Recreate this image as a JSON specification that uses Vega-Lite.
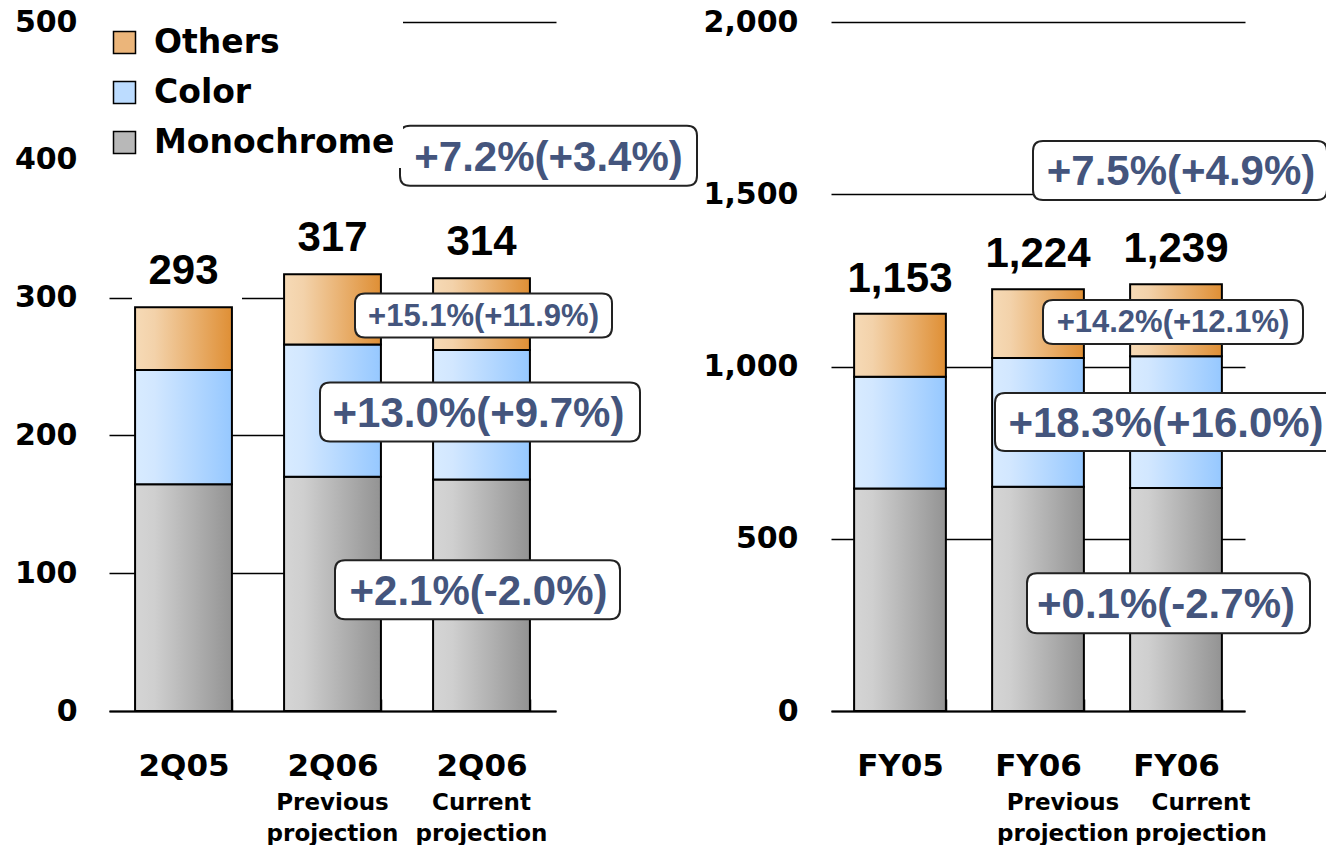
{
  "$schema": "https://vega.github.io/schema/vega-lite/v6.json",
  "background": "white",
  "padding": {"left": 14, "top": 7, "right": 0, "bottom": 0},
  "bounds": "flush",
  "spacing": 275,
  "datasets": {
    "left": [
      {"period": "2Q05", "segment": "Monochrome", "value": 164.5},
      {"period": "2Q05", "segment": "Color", "value": 83},
      {"period": "2Q05", "segment": "Others", "value": 45.5},
      {"period": "2Q06 Previous projection", "segment": "Monochrome", "value": 170},
      {"period": "2Q06 Previous projection", "segment": "Color", "value": 96},
      {"period": "2Q06 Previous projection", "segment": "Others", "value": 51},
      {"period": "2Q06 Current projection", "segment": "Monochrome", "value": 168},
      {"period": "2Q06 Current projection", "segment": "Color", "value": 94},
      {"period": "2Q06 Current projection", "segment": "Others", "value": 52}
    ],
    "leftNotes": [
      {"period": "2Q06 Current projection", "segment": "Total", "label": "+7.2%(+3.4%)", "value": 403},
      {"period": "2Q06 Current projection", "segment": "Others", "label": "+15.1%(+11.9%)", "value": 287},
      {"period": "2Q06 Current projection", "segment": "Color", "label": "+13.0%(+9.7%)", "value": 217},
      {"period": "2Q06 Current projection", "segment": "Monochrome", "label": "+2.1%(-2.0%)", "value": 88}
    ],
    "right": [
      {"period": "FY05", "segment": "Monochrome", "value": 646},
      {"period": "FY05", "segment": "Color", "value": 324},
      {"period": "FY05", "segment": "Others", "value": 183},
      {"period": "FY06 Previous projection", "segment": "Monochrome", "value": 651},
      {"period": "FY06 Previous projection", "segment": "Color", "value": 374},
      {"period": "FY06 Previous projection", "segment": "Others", "value": 199},
      {"period": "FY06 Current projection", "segment": "Monochrome", "value": 647},
      {"period": "FY06 Current projection", "segment": "Color", "value": 383},
      {"period": "FY06 Current projection", "segment": "Others", "value": 209}
    ],
    "rightNotes": [
      {"period": "FY06 Current projection", "segment": "Total", "label": "+7.5%(+4.9%)", "value": 1569},
      {"period": "FY06 Current projection", "segment": "Others", "label": "+14.2%(+12.1%)", "value": 1129},
      {"period": "FY06 Current projection", "segment": "Color", "label": "+18.3%(+16.0%)", "value": 839},
      {"period": "FY06 Current projection", "segment": "Monochrome", "label": "+0.1%(-2.7%)", "value": 313}
    ]
  },
  "hconcat": [
    {
      "width": 447,
      "height": 689,
      "resolve": {"axis": {"x": "independent"}},
      "layer": [
        {
          "data": {"name": "left"},
          "transform": [
            {"calculate": "indexof(['Monochrome','Color','Others'], datum.segment)", "as": "stackIdx"},
            {"stack": "value", "groupby": ["period"], "sort": [{"field": "stackIdx", "order": "ascending"}], "as": ["v0", "v1"]}
          ],
          "mark": {"type": "bar"},
          "encoding": {
            "x": {"field": "period", "type": "nominal", "sort": ["2Q05", "2Q06 Previous projection", "2Q06 Current projection"], "title": null,
              "scale": {"paddingInner": 0.35, "paddingOuter": 0.175},
              "axis": {"orient": "bottom", "labelExpr": "split(datum.label, ' ')[0]", "labelFont": "DejaVu Sans", "labelFontWeight": "bold", "labelFontSize": 31, "labelColor": "black", "labelPadding": 52, "labelAngle": 0,
                "domainColor": "black", "domainWidth": 2, "ticks": true, "tickBand": "extent", "tickSize": -12, "tickColor": "black", "tickWidth": 1.5, "grid": false}},
            "y": {"field": "v1", "type": "quantitative", "title": null,
              "scale": {"domain": [0, 500], "nice": false},
              "axis": {"values": [0, 100, 200, 300, 400, 500], "labelPadding": 32, "labelFont": "DejaVu Sans", "labelFontWeight": "bold", "labelFontSize": 30, "labelColor": "black",
                "domain": false, "ticks": false, "grid": true, "gridColor": "black", "gridWidth": 1.5, "gridOpacity": 1}},
            "y2": {"field": "v0"},
            "color": {"field": "segment", "type": "nominal",
              "scale": {"domain": ["Others", "Color", "Monochrome"], "range": ["#EBB57A", "#BCDCFF", "#B8B8B8"]},
              "legend": {"orient": "none", "legendX": -9, "legendY": -4, "title": null, "symbolType": "square", "symbolSize": 484, "symbolStrokeColor": "black", "symbolStrokeWidth": 1.5,
                "labelFont": "DejaVu Sans", "labelFontWeight": "bold", "labelFontSize": 33, "labelColor": "black", "labelOffset": 13, "rowPadding": 16, "fillColor": "white", "padding": 8, "labelLimit": 400}}
          }
        },
        {
          "data": {"name": "left"},
          "transform": [
            {"calculate": "indexof(['Monochrome','Color','Others'], datum.segment)", "as": "stackIdx"},
            {"stack": "value", "groupby": ["period"], "sort": [{"field": "stackIdx", "order": "ascending"}], "as": ["v0", "v1"]},
            {"filter": "datum.segment === 'Monochrome'"}
          ],
          "mark": {"type": "bar", "stroke": "black", "strokeWidth": 2,
            "fill": {"gradient": "linear", "x1": 0, "y1": 0, "x2": 1, "y2": 0, "stops": [{"offset": 0, "color": "#D5D5D5"}, {"offset": 0.2, "color": "#CFCFCF"}, {"offset": 1, "color": "#939393"}]}},
          "encoding": {
            "x": {"field": "period", "type": "nominal", "sort": ["2Q05", "2Q06 Previous projection", "2Q06 Current projection"], "title": null, "axis": null},
            "y": {"field": "v1", "type": "quantitative", "title": null},
            "y2": {"field": "v0"}
          }
        },
        {
          "data": {"name": "left"},
          "transform": [
            {"calculate": "indexof(['Monochrome','Color','Others'], datum.segment)", "as": "stackIdx"},
            {"stack": "value", "groupby": ["period"], "sort": [{"field": "stackIdx", "order": "ascending"}], "as": ["v0", "v1"]},
            {"filter": "datum.segment === 'Color'"}
          ],
          "mark": {"type": "bar", "stroke": "black", "strokeWidth": 2,
            "fill": {"gradient": "linear", "x1": 0, "y1": 0, "x2": 1, "y2": 0, "stops": [{"offset": 0, "color": "#D8EBFF"}, {"offset": 0.2, "color": "#D2E7FF"}, {"offset": 1, "color": "#96C8FF"}]}},
          "encoding": {
            "x": {"field": "period", "type": "nominal", "sort": ["2Q05", "2Q06 Previous projection", "2Q06 Current projection"], "title": null, "axis": null},
            "y": {"field": "v1", "type": "quantitative", "title": null},
            "y2": {"field": "v0"}
          }
        },
        {
          "data": {"name": "left"},
          "transform": [
            {"calculate": "indexof(['Monochrome','Color','Others'], datum.segment)", "as": "stackIdx"},
            {"stack": "value", "groupby": ["period"], "sort": [{"field": "stackIdx", "order": "ascending"}], "as": ["v0", "v1"]},
            {"filter": "datum.segment === 'Others'"}
          ],
          "mark": {"type": "bar", "stroke": "black", "strokeWidth": 2,
            "fill": {"gradient": "linear", "x1": 0, "y1": 0, "x2": 1, "y2": 0, "stops": [{"offset": 0, "color": "#F6DAB6"}, {"offset": 0.2, "color": "#F3D2AA"}, {"offset": 1, "color": "#DF8F35"}]}},
          "encoding": {
            "x": {"field": "period", "type": "nominal", "sort": ["2Q05", "2Q06 Previous projection", "2Q06 Current projection"], "title": null, "axis": null},
            "y": {"field": "v1", "type": "quantitative", "title": null},
            "y2": {"field": "v0"}
          }
        },
        {
          "data": {"name": "left"},
          "mark": {"type": "point", "filled": true, "fill": "white", "strokeWidth": 0, "opacity": 1, "size": 160000,
            "shape": "M-0.2575,-0.3 L0.2925,-0.3 L0.2925,-0.035 L-0.2575,-0.035 Z"},
          "encoding": {
            "x": {"field": "period", "type": "nominal", "sort": ["2Q05", "2Q06 Previous projection", "2Q06 Current projection"], "title": null, "axis": null},
            "y": {"aggregate": "sum", "field": "value", "type": "quantitative", "title": null}
          }
        },
        {
          "data": {"name": "left"},
          "mark": {"type": "text", "font": "Liberation Sans", "fontWeight": "bold", "fontSize": 42, "color": "black", "baseline": "alphabetic", "dy": -23},
          "encoding": {
            "x": {"field": "period", "type": "nominal", "sort": ["2Q05", "2Q06 Previous projection", "2Q06 Current projection"], "title": null,
              "axis": {"orient": "bottom", "labelExpr": "length(split(datum.label, ' ')) > 1 ? slice(split(datum.label, ' '), 1) : ''", "labelFont": "DejaVu Sans", "labelFontWeight": "bold", "labelFontSize": 23, "labelLineHeight": 31, "labelColor": "black", "labelPadding": 80, "labelAngle": 0,
                "domain": false, "ticks": false, "grid": false}},
            "y": {"aggregate": "sum", "field": "value", "type": "quantitative", "title": null},
            "text": {"aggregate": "sum", "field": "value", "type": "quantitative", "format": ",.0f"}
          }
        },
        {
          "data": {"name": "leftNotes"},
          "mark": {"type": "point", "filled": true, "fill": "white", "stroke": "#222222", "strokeWidth": 2, "opacity": 1, "size": 160000},
          "encoding": {
            "x": {"field": "period", "type": "nominal", "sort": ["2Q05", "2Q06 Previous projection", "2Q06 Current projection"], "title": null, "axis": null},
            "y": {"field": "value", "type": "quantitative", "title": null},
            "shape": {"field": "label", "type": "nominal", "legend": null, "scale": {
              "domain": ["+7.2%(+3.4%)", "+15.1%(+11.9%)", "+13.0%(+9.7%)", "+2.1%(-2.0%)"],
              "range": [
                "M-0.3575,-0.15 L1.0275,-0.15 Q1.0775,-0.15 1.0775,-0.1 L1.0775,0.1 Q1.0775,0.15 1.0275,0.15 L-0.3575,0.15 Q-0.4075,0.15 -0.4075,0.1 L-0.4075,-0.1 Q-0.4075,-0.15 -0.3575,-0.15 Z",
                "M-0.5825,-0.11 L0.6025,-0.11 Q0.6525,-0.11 0.6525,-0.06 L0.6525,0.06 Q0.6525,0.11 0.6025,0.11 L-0.5825,0.11 Q-0.6325,0.11 -0.6325,0.06 L-0.6325,-0.06 Q-0.6325,-0.11 -0.5825,-0.11 Z",
                "M-0.7575,-0.1475 L0.7425,-0.1475 Q0.7925,-0.1475 0.7925,-0.0975 L0.7925,0.0975 Q0.7925,0.1475 0.7425,0.1475 L-0.7575,0.1475 Q-0.8075,0.1475 -0.8075,0.0975 L-0.8075,-0.0975 Q-0.8075,-0.1475 -0.7575,-0.1475 Z",
                "M-0.6825,-0.1475 L0.6425,-0.1475 Q0.6925,-0.1475 0.6925,-0.0975 L0.6925,0.0975 Q0.6925,0.1475 0.6425,0.1475 L-0.6825,0.1475 Q-0.7325,0.1475 -0.7325,0.0975 L-0.7325,-0.0975 Q-0.7325,-0.1475 -0.6825,-0.1475 Z"
              ]}}
          }
        },
        {
          "data": {"name": "leftNotes"},
          "transform": [{"filter": "datum.segment === 'Total'"}],
          "mark": {"type": "text", "font": "Liberation Sans", "fontWeight": "bold", "fontSize": 42, "color": "#44557D", "baseline": "middle", "dx": 67, "dy": 2},
          "encoding": {
            "x": {"field": "period", "type": "nominal", "sort": ["2Q05", "2Q06 Previous projection", "2Q06 Current projection"], "title": null, "axis": null},
            "y": {"field": "value", "type": "quantitative", "title": null},
            "text": {"field": "label", "type": "nominal"}
          }
        },
        {
          "data": {"name": "leftNotes"},
          "transform": [{"filter": "datum.segment === 'Color' || datum.segment === 'Monochrome'"}],
          "mark": {"type": "text", "font": "Liberation Sans", "fontWeight": "bold", "fontSize": 42, "color": "#44557D", "baseline": "middle", "dx": -3, "dy": 2},
          "encoding": {
            "x": {"field": "period", "type": "nominal", "sort": ["2Q05", "2Q06 Previous projection", "2Q06 Current projection"], "title": null, "axis": null},
            "y": {"field": "value", "type": "quantitative", "title": null},
            "text": {"field": "label", "type": "nominal"}
          }
        },
        {
          "data": {"name": "leftNotes"},
          "transform": [{"filter": "datum.segment === 'Others'"}],
          "mark": {"type": "text", "font": "Liberation Sans", "fontWeight": "bold", "fontSize": 31, "color": "#44557D", "baseline": "middle", "dx": 2, "dy": 1},
          "encoding": {
            "x": {"field": "period", "type": "nominal", "sort": ["2Q05", "2Q06 Previous projection", "2Q06 Current projection"], "title": null, "axis": null},
            "y": {"field": "value", "type": "quantitative", "title": null},
            "text": {"field": "label", "type": "nominal"}
          }
        }
      ]
    },
    {
      "width": 414,
      "height": 689,
      "resolve": {"axis": {"x": "independent"}},
      "layer": [
        {
          "data": {"name": "right"},
          "transform": [
            {"calculate": "indexof(['Monochrome','Color','Others'], datum.segment)", "as": "stackIdx"},
            {"stack": "value", "groupby": ["period"], "sort": [{"field": "stackIdx", "order": "ascending"}], "as": ["v0", "v1"]}
          ],
          "mark": {"type": "bar"},
          "encoding": {
            "x": {"field": "period", "type": "nominal", "sort": ["FY05", "FY06 Previous projection", "FY06 Current projection"], "title": null,
              "scale": {"paddingInner": 0.335, "paddingOuter": 0.1675},
              "axis": {"orient": "bottom", "labelExpr": "split(datum.label, ' ')[0]", "labelFont": "DejaVu Sans", "labelFontWeight": "bold", "labelFontSize": 31, "labelColor": "black", "labelPadding": 52, "labelAngle": 0,
                "domainColor": "black", "domainWidth": 2, "ticks": true, "tickBand": "extent", "tickSize": -12, "tickColor": "black", "tickWidth": 1.5, "grid": false}},
            "y": {"field": "v1", "type": "quantitative", "title": null,
              "scale": {"domain": [0, 2000], "nice": false},
              "axis": {"values": [0, 500, 1000, 1500, 2000], "format": ",.0f", "labelPadding": 33, "labelFont": "DejaVu Sans", "labelFontWeight": "bold", "labelFontSize": 30, "labelColor": "black",
                "domain": false, "ticks": false, "grid": true, "gridColor": "black", "gridWidth": 1.5, "gridOpacity": 1}},
            "y2": {"field": "v0"},
            "color": {"field": "segment", "type": "nominal",
              "scale": {"domain": ["Others", "Color", "Monochrome"], "range": ["#EBB57A", "#BCDCFF", "#B8B8B8"]},
              "legend": null}
          }
        },
        {
          "data": {"name": "right"},
          "transform": [
            {"calculate": "indexof(['Monochrome','Color','Others'], datum.segment)", "as": "stackIdx"},
            {"stack": "value", "groupby": ["period"], "sort": [{"field": "stackIdx", "order": "ascending"}], "as": ["v0", "v1"]},
            {"filter": "datum.segment === 'Monochrome'"}
          ],
          "mark": {"type": "bar", "stroke": "black", "strokeWidth": 2,
            "fill": {"gradient": "linear", "x1": 0, "y1": 0, "x2": 1, "y2": 0, "stops": [{"offset": 0, "color": "#D5D5D5"}, {"offset": 0.2, "color": "#CFCFCF"}, {"offset": 1, "color": "#939393"}]}},
          "encoding": {
            "x": {"field": "period", "type": "nominal", "sort": ["FY05", "FY06 Previous projection", "FY06 Current projection"], "title": null, "axis": null},
            "y": {"field": "v1", "type": "quantitative", "title": null},
            "y2": {"field": "v0"}
          }
        },
        {
          "data": {"name": "right"},
          "transform": [
            {"calculate": "indexof(['Monochrome','Color','Others'], datum.segment)", "as": "stackIdx"},
            {"stack": "value", "groupby": ["period"], "sort": [{"field": "stackIdx", "order": "ascending"}], "as": ["v0", "v1"]},
            {"filter": "datum.segment === 'Color'"}
          ],
          "mark": {"type": "bar", "stroke": "black", "strokeWidth": 2,
            "fill": {"gradient": "linear", "x1": 0, "y1": 0, "x2": 1, "y2": 0, "stops": [{"offset": 0, "color": "#D8EBFF"}, {"offset": 0.2, "color": "#D2E7FF"}, {"offset": 1, "color": "#96C8FF"}]}},
          "encoding": {
            "x": {"field": "period", "type": "nominal", "sort": ["FY05", "FY06 Previous projection", "FY06 Current projection"], "title": null, "axis": null},
            "y": {"field": "v1", "type": "quantitative", "title": null},
            "y2": {"field": "v0"}
          }
        },
        {
          "data": {"name": "right"},
          "transform": [
            {"calculate": "indexof(['Monochrome','Color','Others'], datum.segment)", "as": "stackIdx"},
            {"stack": "value", "groupby": ["period"], "sort": [{"field": "stackIdx", "order": "ascending"}], "as": ["v0", "v1"]},
            {"filter": "datum.segment === 'Others'"}
          ],
          "mark": {"type": "bar", "stroke": "black", "strokeWidth": 2,
            "fill": {"gradient": "linear", "x1": 0, "y1": 0, "x2": 1, "y2": 0, "stops": [{"offset": 0, "color": "#F6DAB6"}, {"offset": 0.2, "color": "#F3D2AA"}, {"offset": 1, "color": "#DF8F35"}]}},
          "encoding": {
            "x": {"field": "period", "type": "nominal", "sort": ["FY05", "FY06 Previous projection", "FY06 Current projection"], "title": null, "axis": null},
            "y": {"field": "v1", "type": "quantitative", "title": null},
            "y2": {"field": "v0"}
          }
        },
        {
          "data": {"name": "right"},
          "mark": {"type": "text", "font": "Liberation Sans", "fontWeight": "bold", "fontSize": 42, "color": "black", "baseline": "alphabetic", "dy": -22},
          "encoding": {
            "x": {"field": "period", "type": "nominal", "sort": ["FY05", "FY06 Previous projection", "FY06 Current projection"], "title": null,
              "axis": {"orient": "bottom", "labelExpr": "length(split(datum.label, ' ')) > 1 ? slice(split(datum.label, ' '), 1) : ''", "labelFont": "DejaVu Sans", "labelFontWeight": "bold", "labelFontSize": 23, "labelLineHeight": 31, "labelColor": "black", "labelPadding": 80, "labelOffset": 25, "labelAngle": 0,
                "domain": false, "ticks": false, "grid": false}},
            "y": {"aggregate": "sum", "field": "value", "type": "quantitative", "title": null},
            "text": {"aggregate": "sum", "field": "value", "type": "quantitative", "format": ",.0f"}
          }
        },
        {
          "data": {"name": "rightNotes"},
          "mark": {"type": "point", "filled": true, "fill": "white", "stroke": "#222222", "strokeWidth": 2, "opacity": 1, "size": 160000},
          "encoding": {
            "x": {"field": "period", "type": "nominal", "sort": ["FY05", "FY06 Previous projection", "FY06 Current projection"], "title": null, "axis": null},
            "y": {"field": "value", "type": "quantitative", "title": null},
            "shape": {"field": "label", "type": "nominal", "legend": null, "scale": {
              "domain": ["+7.5%(+4.9%)", "+14.2%(+12.1%)", "+18.3%(+16.0%)", "+0.1%(-2.7%)"],
              "range": [
                "M-0.665,-0.1475 L0.705,-0.1475 Q0.755,-0.1475 0.755,-0.0975 L0.755,0.0975 Q0.755,0.1475 0.705,0.1475 L-0.665,0.1475 Q-0.715,0.1475 -0.715,0.0975 L-0.715,-0.0975 Q-0.715,-0.1475 -0.665,-0.1475 Z",
                "M-0.615,-0.11 L0.585,-0.11 Q0.635,-0.11 0.635,-0.06 L0.635,0.06 Q0.635,0.11 0.585,0.11 L-0.615,0.11 Q-0.665,0.11 -0.665,0.06 L-0.665,-0.06 Q-0.665,-0.11 -0.615,-0.11 Z",
                "M-0.855,-0.145 L0.755,-0.145 Q0.805,-0.145 0.805,-0.095 L0.805,0.095 Q0.805,0.145 0.755,0.145 L-0.855,0.145 Q-0.905,0.145 -0.905,0.095 L-0.905,-0.095 Q-0.905,-0.145 -0.855,-0.145 Z",
                "M-0.695,-0.15 L0.62,-0.15 Q0.67,-0.15 0.67,-0.1 L0.67,0.1 Q0.67,0.15 0.62,0.15 L-0.695,0.15 Q-0.745,0.15 -0.745,0.1 L-0.745,-0.1 Q-0.745,-0.15 -0.695,-0.15 Z"
              ]}}
          }
        },
        {
          "data": {"name": "rightNotes"},
          "transform": [{"filter": "datum.segment === 'Total'"}],
          "mark": {"type": "text", "font": "Liberation Sans", "fontWeight": "bold", "fontSize": 42, "color": "#44557D", "baseline": "middle", "dx": 5, "dy": 2},
          "encoding": {
            "x": {"field": "period", "type": "nominal", "sort": ["FY05", "FY06 Previous projection", "FY06 Current projection"], "title": null, "axis": null},
            "y": {"field": "value", "type": "quantitative", "title": null},
            "text": {"field": "label", "type": "nominal"}
          }
        },
        {
          "data": {"name": "rightNotes"},
          "transform": [{"filter": "datum.segment === 'Color' || datum.segment === 'Monochrome'"}],
          "mark": {"type": "text", "font": "Liberation Sans", "fontWeight": "bold", "fontSize": 42, "color": "#44557D", "baseline": "middle", "dx": -10, "dy": 2},
          "encoding": {
            "x": {"field": "period", "type": "nominal", "sort": ["FY05", "FY06 Previous projection", "FY06 Current projection"], "title": null, "axis": null},
            "y": {"field": "value", "type": "quantitative", "title": null},
            "text": {"field": "label", "type": "nominal"}
          }
        },
        {
          "data": {"name": "rightNotes"},
          "transform": [{"filter": "datum.segment === 'Others'"}],
          "mark": {"type": "text", "font": "Liberation Sans", "fontWeight": "bold", "fontSize": 31, "color": "#44557D", "baseline": "middle", "dx": -3, "dy": 1},
          "encoding": {
            "x": {"field": "period", "type": "nominal", "sort": ["FY05", "FY06 Previous projection", "FY06 Current projection"], "title": null, "axis": null},
            "y": {"field": "value", "type": "quantitative", "title": null},
            "text": {"field": "label", "type": "nominal"}
          }
        }
      ]
    }
  ],
  "resolve": {"scale": {"color": "independent", "shape": "independent"}},
  "config": {
    "view": {"stroke": null}
  }
}
